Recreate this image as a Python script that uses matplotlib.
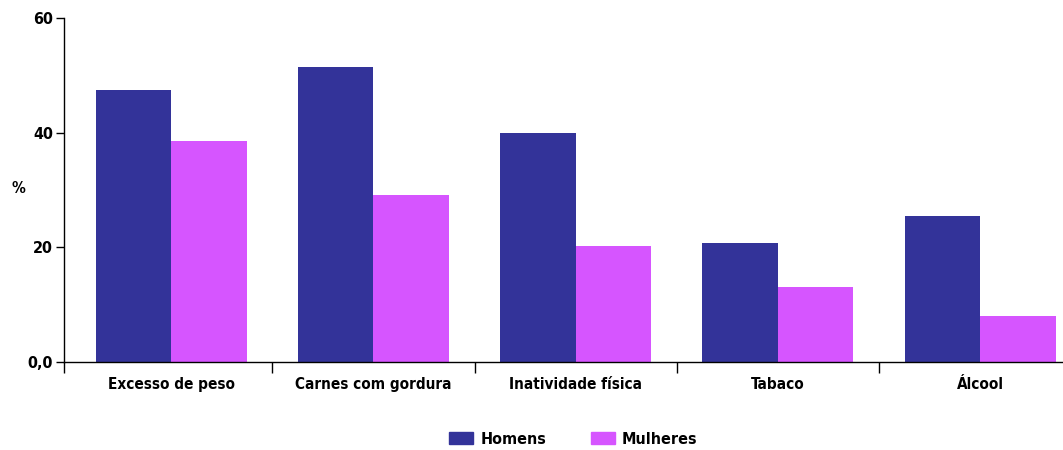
import numpy as np
import matplotlib.pyplot as plt
from matplotlib.patches import Patch

plt.rcParams['font.family'] = ['DejaVu Sans']
plt.rcParams['font.stretch'] = 'condensed'
plt.rcParams['font.weight'] = 'bold'

# prevalence of risk factors by sex (%)
categories = ['Excesso de peso', 'Carnes com gordura', 'Inatividade física', 'Tabaco', 'Álcool']
homens = [47.4, 51.5, 39.9, 20.8, 25.5]
mulheres = [38.6, 29.2, 20.2, 13.1, 8.0]
yticks = [0, 20, 40, 60]
ytick_labels = ['0,0', '20', '40', '60']

c_h = '#333399'
c_m = '#d655ff'

fig = plt.figure(figsize=(10.63, 4.5), dpi=100)
ax = fig.add_axes([0.0602, 0.1956, 0.9398, 0.7644])

x = np.arange(len(categories))
w = 0.373
ax.bar(x - w / 2, homens, w, color=c_h)
ax.bar(x + w / 2, mulheres, w, color=c_m)

x_left, x_right = -0.53, 4.41
ax.set_ylim(0, 60)
ax.set_xlim(x_left, x_right)
ax.set_yticks(yticks)
ax.set_yticklabels(ytick_labels, fontsize=11.5)
ax.tick_params(axis='y', length=6, width=1, pad=2)

# boundaries get the tick marks, centres get the names
ax.set_xticks([x_left] + list(np.arange(1, len(categories)) - 0.5))
ax.set_xticklabels([])
ax.tick_params(axis='x', which='major', length=8, width=1)
ax.set_xticks(x, minor=True)
ax.set_xticklabels(categories, minor=True, fontsize=11)
ax.tick_params(axis='x', which='minor', length=0, pad=11)

for s in ['top', 'right']:
    ax.spines[s].set_visible(False)
for s in ['left', 'bottom']:
    ax.spines[s].set_linewidth(1)

fig.text(0.011, 0.582, '%', fontsize=11, ha='left', va='center')

handles = [Patch(color=c_h, label='Homens'), Patch(color=c_m, label='Mulheres')]
fig.legend(handles=handles, loc='center', bbox_to_anchor=(0.5395, 0.0244),
           ncol=2, frameon=False, fontsize=11.5, handlelength=1.5,
           handleheight=0.87, columnspacing=2.8, handletextpad=0.45)

fig.savefig('out.png', dpi=100)
